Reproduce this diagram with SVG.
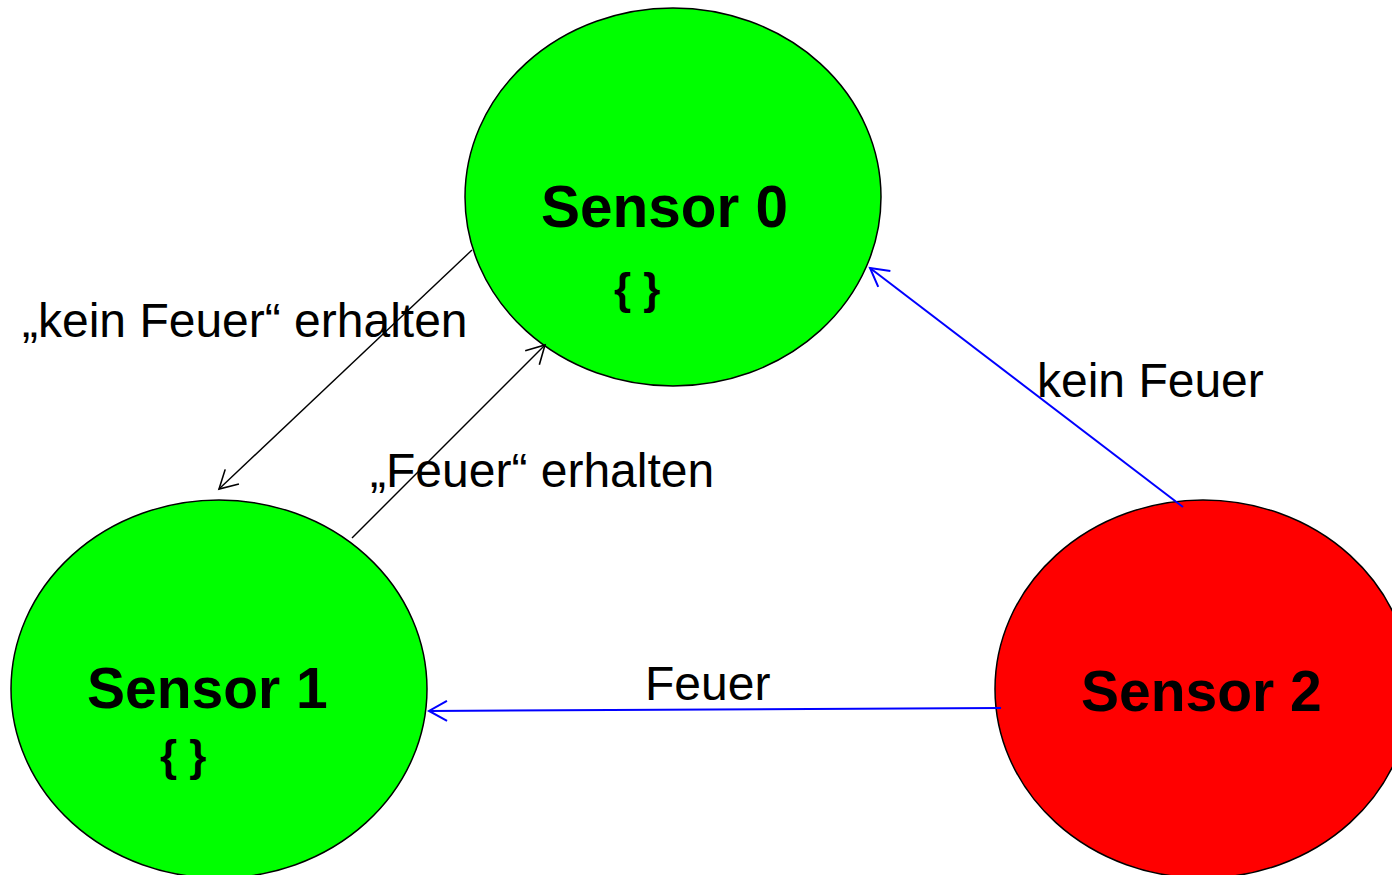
<svg xmlns="http://www.w3.org/2000/svg" width="1392" height="875" viewBox="0 0 1392 875">
<style>
.node{stroke:#000;stroke-width:1.5}
.title{font-family:"Liberation Sans",Arial,sans-serif;font-weight:bold;font-size:57px;fill:#000}
.brace{font-family:"Liberation Sans",Arial,sans-serif;font-weight:bold;font-size:44px;fill:#000}
.lbl{font-family:"Liberation Sans",Arial,sans-serif;font-size:48px;fill:#000}
.blk{stroke:#000;stroke-width:1.4;fill:none}
.blu{stroke:#0000FF;stroke-width:2;fill:none}
</style>
<defs>
<marker id="ab" markerUnits="userSpaceOnUse" markerWidth="24" markerHeight="24" viewBox="-20 -12 24 24" refX="0" refY="0" orient="auto">
<path d="M-18,-10 L0,0 L-18,10" fill="none" stroke="#000" stroke-width="1.6"/>
</marker>
<marker id="au" markerUnits="userSpaceOnUse" markerWidth="24" markerHeight="24" viewBox="-20 -12 24 24" refX="0" refY="0" orient="auto">
<path d="M-18,-10 L0,0 L-18,10" fill="none" stroke="#0000FF" stroke-width="2"/>
</marker>
</defs>
<rect width="1392" height="875" fill="#fff"/>
<g id="sensor0">
<ellipse class="node" cx="673" cy="197" rx="208" ry="189" fill="#00FF00"/>
<text class="title" x="541" y="227" style="font-size:58.5px">Sensor 0</text>
<text class="brace" x="614" y="304">{ }</text>
</g>
<g id="sensor1">
<ellipse class="node" cx="219" cy="689" rx="208" ry="189" fill="#00FF00"/>
<text class="title" x="87" y="708">Sensor 1</text>
<text class="brace" x="160" y="771">{ }</text>
</g>
<g id="sensor2">
<ellipse class="node" cx="1203" cy="689" rx="208" ry="189" fill="#FF0000"/>
<text class="title" x="1081" y="711">Sensor 2</text>
</g>
<g id="labels">
<text class="lbl" x="22" y="337">„kein Feuer“ erhalten</text>
<text class="lbl" x="370" y="487">„Feuer“ erhalten</text>
<text class="lbl" x="1037" y="397">kein Feuer</text>
<text class="lbl" x="645" y="700">Feuer</text>
</g>
<g id="connectors">
<line class="blk" x1="472" y1="250" x2="219" y2="489" marker-end="url(#ab)"/>
<line class="blk" x1="352" y1="538" x2="545" y2="345" marker-end="url(#ab)"/>
<line class="blu" x1="1183" y1="507" x2="870" y2="268" marker-end="url(#au)"/>
<line class="blu" x1="1001" y1="708" x2="429" y2="711" marker-end="url(#au)"/>
</g>
</svg>
